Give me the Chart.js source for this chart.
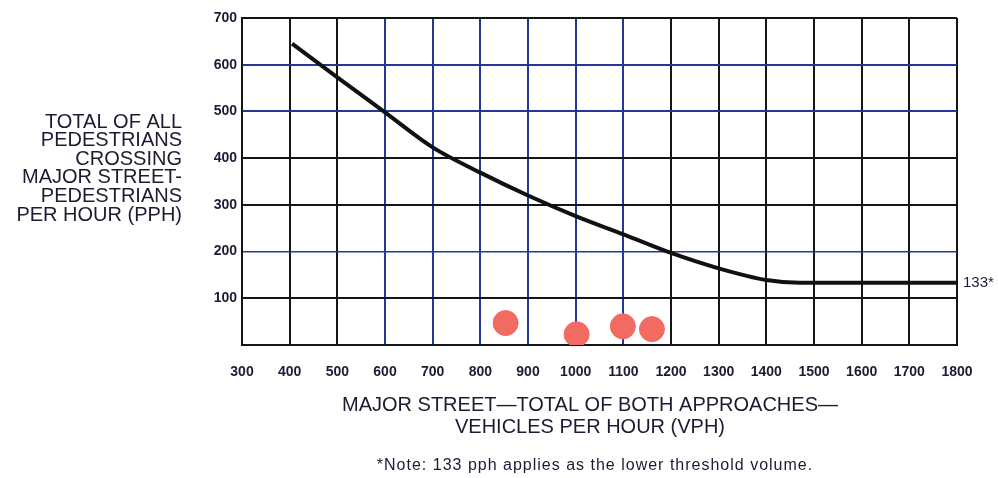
<html>
<head>
  <meta charset="utf-8" />
  <title>Pedestrian Volume Warrant</title>
  <script src="https://cdn.jsdelivr.net/npm/chart.js@4.4.1/dist/chart.umd.min.js"></script>
  <style>
    html, body { margin: 0; padding: 0; background: white; }
    .wrap { position: relative; width: 998px; height: 478px; }
  </style>
</head>
<body>
  <div class="wrap"><canvas id="warrantChart" width="998" height="478"></canvas></div>

  <script>
    // threshold curve
    var curveX = [405, 500, 600, 700, 800, 900, 1000, 1100, 1200, 1300, 1400, 1470, 1500, 1600, 1700, 1800];
    var curveY = [645, 573, 498, 423, 369, 320, 276, 237, 197, 164, 139, 133, 133, 133, 133, 133];

    // observed counts (red dots)
    var obsX = [853, 1002, 1099, 1160];
    var obsY = [47, 23, 40, 34];

    var xTicks = [300, 400, 500, 600, 700, 800, 900, 1000, 1100, 1200, 1300, 1400, 1500, 1600, 1700, 1800];
    var yTicks = [0, 100, 200, 300, 400, 500, 600, 700];
    var blueX = [600, 700, 800, 900, 1000, 1100];
    var blueY = [200, 500, 600];

    var yTitle = ["TOTAL OF ALL", "PEDESTRIANS", "CROSSING", "MAJOR STREET-", "PEDESTRIANS", "PER HOUR (PPH)"];
    var xTitle = ["MAJOR STREET\u2014TOTAL OF BOTH APPROACHES\u2014", "VEHICLES PER HOUR (VPH)"];
    var noteText = "*Note: 133 pph applies as the lower threshold volume.";
    var endLabel = "133*";

    var ink = "#1b1c33";
    var gridBlue = "#23389a";
    var gridBlack = "#151515";
    var fam = "'Liberation Sans', Arial, sans-serif";

    var extraText = {
      id: "extraText",
      afterDraw: function (chart) {
        var ctx = chart.ctx;
        var xs = chart.scales.x, ys = chart.scales.y;
        ctx.save();
        ctx.fillStyle = ink;
        ctx.textBaseline = "middle";

        ctx.font = "20px " + fam;
        ctx.textAlign = "right";
        yTitle.forEach(function (t, i) { ctx.fillText(t, 182, 122 + i * 18.6); });

        ctx.textAlign = "center";
        ctx.fillText(xTitle[0], 590, 405);
        ctx.fillText(xTitle[1], 590, 427);

        ctx.font = "16px " + fam;
        ctx.letterSpacing = "1px";
        ctx.fillText(noteText, 595, 466);
        ctx.letterSpacing = "0px";

        ctx.textAlign = "left";
        ctx.font = "15px " + fam;
        ctx.fillText(endLabel, xs.getPixelForValue(1800) + 6, ys.getPixelForValue(133));
        ctx.restore();
      }
    };

    new Chart(document.getElementById("warrantChart"), {
      type: "scatter",
      data: {
        datasets: [
          {
            type: "line",
            data: curveX.map(function (x, i) { return { x: x, y: curveY[i] }; }),
            borderColor: "#111",
            borderWidth: 4,
            pointRadius: 0,
            cubicInterpolationMode: "monotone",
            fill: false
          },
          {
            data: obsX.map(function (x, i) { return { x: x, y: obsY[i] }; }),
            backgroundColor: "#f26b62",
            borderColor: "#f26b62",
            pointRadius: 12.5
          }
        ]
      },
      options: {
        responsive: false,
        animation: false,
        layout: { padding: { left: 0, right: 41, top: 18, bottom: 0 } },
        plugins: { legend: { display: false }, tooltip: { enabled: false } },
        scales: {
          x: {
            type: "linear",
            min: 300, max: 1800,
            afterBuildTicks: function (s) { s.ticks = xTicks.map(function (v) { return { value: v }; }); },
            afterFit: function (s) { s.height = 133; },
            border: { color: gridBlack, width: 2 },
            grid: {
              drawTicks: false,
              lineWidth: 2,
              color: function (c) { return blueX.indexOf(c.tick.value) >= 0 ? gridBlue : gridBlack; }
            },
            ticks: {
              padding: 19,
              maxRotation: 0,
              color: ink,
              font: { family: fam, size: 14, weight: "bold" },
              callback: function (v) { return String(v); }
            }
          },
          y: {
            min: 0, max: 700,
            afterBuildTicks: function (s) { s.ticks = yTicks.map(function (v) { return { value: v }; }); },
            afterFit: function (s) { s.width = 242; },
            border: { color: gridBlack, width: 2 },
            grid: {
              drawTicks: false,
              lineWidth: function (c) { return c.tick.value === 200 ? 1.5 : 2; },
              color: function (c) { return blueY.indexOf(c.tick.value) >= 0 ? gridBlue : gridBlack; }
            },
            ticks: {
              padding: 5,
              color: ink,
              font: { family: fam, size: 14, weight: "bold" },
              callback: function (v) { return v === 0 ? "" : String(v); }
            }
          }
        }
      },
      plugins: [extraText]
    });
  </script>
</body>
</html>
